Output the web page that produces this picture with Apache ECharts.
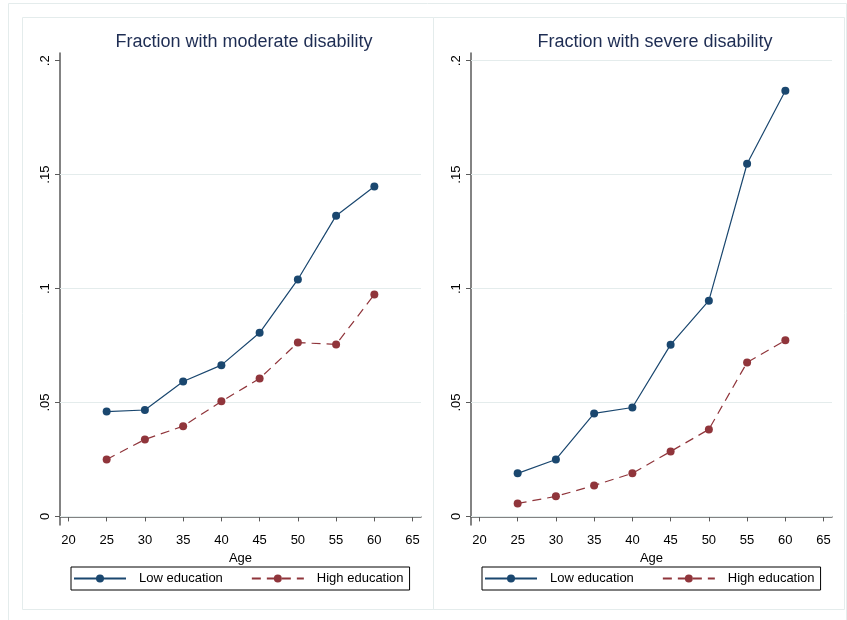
<!DOCTYPE html>
<html>
<head>
<meta charset="utf-8">
<script src="https://cdn.jsdelivr.net/npm/echarts@6/dist/echarts.min.js"></script>
<style>html,body{margin:0;padding:0;background:#fff}#c{width:847px;height:620px}</style>
</head>
<body>
<div id="c"></div>
<script>
const ages = [25, 30, 35, 40, 45, 50, 55, 60];
const moderateLow = [0.046, 0.0467, 0.0592, 0.0664, 0.0806, 0.104, 0.132, 0.1448];
const moderateHigh = [0.025, 0.0338, 0.0396, 0.0505, 0.0605, 0.0763, 0.0755, 0.0974];
const severeLow = [0.0189, 0.025, 0.0452, 0.0478, 0.0754, 0.0947, 0.1548, 0.1868];
const severeHigh = [0.0057, 0.0088, 0.0136, 0.0189, 0.0285, 0.0382, 0.0676, 0.0773];
const xTicks = [20, 25, 30, 35, 40, 45, 50, 55, 60, 65];
const yTicks = [0, 0.05, 0.1, 0.15, 0.2];
const yTickLabels = ['0', '.05', '.1', '.15', '.2'];
const gridLinesLeft = [0, 0.05, 0.1, 0.15];
const gridLinesRight = [0, 0.05, 0.1, 0.15, 0.2];
const titles = ['Fraction with moderate disability', 'Fraction with severe disability'];
const seriesNames = ['Low education', 'High education'];
const xTitle = 'Age';

const FONT = '"Liberation Sans", Arial, sans-serif';
const BLUE = '#1a476f';
const RED = '#90353b';
const GRID = '#e4ecec';
const AXIS = '#5a5a5a';

const grids = [
  {left: 60, top: 53, width: 361, height: 472},
  {left: 471, top: 53, width: 361, height: 472}
];

function xAxis(i) {
  return {
    type: 'value', gridIndex: i, min: 18.9, max: 66.1,
    name: xTitle, nameLocation: 'middle', nameGap: 23,
    nameTextStyle: {fontFamily: FONT, fontSize: 13, color: '#000'},
    axisLine: {show: true, lineStyle: {color: AXIS, width: 1.5}},
    axisTick: {show: true, length: 5, customValues: xTicks, lineStyle: {color: AXIS}},
    axisLabel: {customValues: xTicks, fontFamily: FONT, fontSize: 13, color: '#000', margin: 9},
    splitLine: {show: false}
  };
}
function yAxis(i) {
  return {
    type: 'value', gridIndex: i, min: -0.00377, max: 0.2034,
    axisLine: {show: true, lineStyle: {color: AXIS, width: 1.5}},
    axisTick: {show: true, length: 5, customValues: yTicks, lineStyle: {color: AXIS}},
    axisLabel: {customValues: yTicks, rotate: 90, fontFamily: FONT, fontSize: 13, color: '#000', margin: 8,
      formatter: v => yTickLabels[yTicks.findIndex(t => Math.abs(t - v) < 1e-9)]},
    splitLine: {show: false}
  };
}
function pairs(vals) { return ages.map((a, k) => [a, vals[k]]); }
function mkSeries(name, vals, i, color, dashed, gridVals) {
  const s = {
    name: name, type: 'line', xAxisIndex: i, yAxisIndex: i,
    data: pairs(vals), symbol: 'circle', symbolSize: 8,
    itemStyle: {color: color},
    lineStyle: {color: color, width: 1.2, type: dashed ? [9, 6] : 'solid'},
    z: 3
  };
  if (gridVals) {
    s.markLine = {
      silent: true, symbol: 'none', label: {show: false},
      lineStyle: {color: GRID, type: 'solid', width: 1},
      data: gridVals.map(v => ({yAxis: v})), z: 1
    };
  }
  return s;
}
function legend(i, left) {
  return {
    gridIndex: i, left: left, top: 567, orient: 'horizontal',
    data: seriesNames, itemWidth: 52, itemHeight: 10, itemGap: 28,
    padding: [5, 6, 5, 2], borderColor: '#000', borderWidth: 1,
    textStyle: {fontFamily: FONT, fontSize: 13, color: '#000', padding: [2, 0, 0, 8]},
    selectedMode: false
  };
}

const chart = echarts.init(document.getElementById('c'), null, {renderer: 'canvas'});
chart.setOption({
  animation: false,
  backgroundColor: '#fff',
  title: [
    {text: titles[0], left: 239, top: 28, textAlign: 'center', textStyle: {fontFamily: FONT, fontSize: 18, fontWeight: 'normal', color: '#1e2d53'}},
    {text: titles[1], left: 650, top: 28, textAlign: 'center', textStyle: {fontFamily: FONT, fontSize: 18, fontWeight: 'normal', color: '#1e2d53'}}
  ],
  graphic: [
    {type: 'rect', shape: {x: 8.5, y: 3.5, width: 838, height: 630}, style: {fill: 'none', stroke: '#e4ecec', lineWidth: 1}, z: -10},
    {type: 'rect', shape: {x: 22.5, y: 17.5, width: 411, height: 592}, style: {fill: 'none', stroke: '#e4ecec', lineWidth: 1}, z: -10},
    {type: 'rect', shape: {x: 433.5, y: 17.5, width: 411, height: 592}, style: {fill: 'none', stroke: '#e4ecec', lineWidth: 1}, z: -10}
  ],
  grid: grids,
  xAxis: [xAxis(0), xAxis(1)],
  yAxis: [yAxis(0), yAxis(1)],
  legend: [legend(0, 71), legend(1, 482)],
  series: [
    mkSeries(seriesNames[0], moderateLow, 0, BLUE, false, gridLinesLeft),
    mkSeries(seriesNames[1], moderateHigh, 0, RED, true, null),
    mkSeries(seriesNames[0], severeLow, 1, BLUE, false, gridLinesRight),
    mkSeries(seriesNames[1], severeHigh, 1, RED, true, null)
  ]
});
</script>
</body>
</html>
